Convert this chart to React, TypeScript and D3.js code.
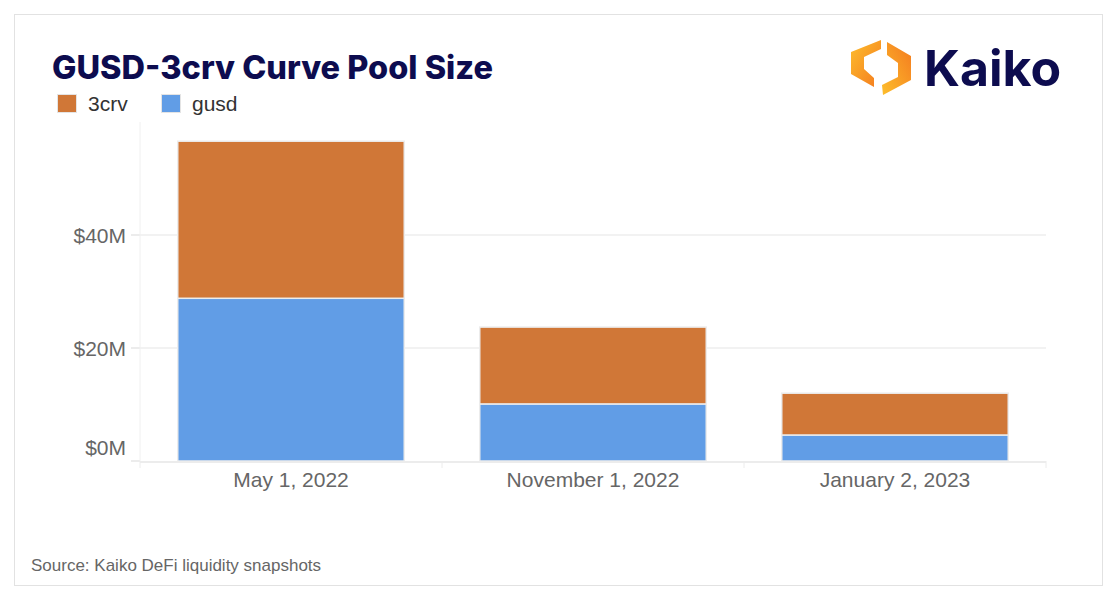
import React from "react";
import * as d3 from "d3";

const categories = ["May 1, 2022", "November 1, 2022", "January 2, 2023"];
const gusdValues = [28.8, 10.1, 4.6];
const crvValues = [27.8, 13.6, 7.4];
const yTicks = [0, 20, 40];
const seriesNames = ["3crv", "gusd"];
const seriesColors = ["#D07737", "#619DE6"];

const W = 1116;
const H = 600;
const plot = { left: 140, right: 1046, top: 122, bottom: 461 };
const sansA = "'Helvetica Neue', Arial, 'Liberation Sans', sans-serif";
const sansB = "Inter, 'Noto Sans', sans-serif";

export default function App() {
  const x = d3
    .scaleBand<string>()
    .domain(categories)
    .range([plot.left, plot.right])
    .paddingInner(0.25)
    .paddingOuter(0.125);
  const y = d3.scaleLinear().domain([0, 60]).range([plot.bottom, plot.top]);

  const rows = categories.map((c, i) => ({ cat: c, gusd: gusdValues[i], crv: crvValues[i] }));
  const stack = d3.stack<any>().keys(["gusd", "crv"])(rows);

  const step = x.step();
  const boundaries = categories.map((c) => (x(c) as number) - (step * 0.25) / 2);
  boundaries.push(plot.right);

  return (
    <svg width={W} height={H} style={{ position: "absolute", left: 0, top: 0, display: "block" }}>
      <defs>
        <linearGradient id="lg" x1="0" y1="0" x2="1" y2="1">
          <stop offset="0" stopColor="#FDBE2C" />
          <stop offset="1" stopColor="#F47A1F" />
        </linearGradient>
        <linearGradient id="lg2" x1="1" y1="0" x2="0" y2="1">
          <stop offset="0" stopColor="#F47A1F" />
          <stop offset="1" stopColor="#FDBE2C" />
        </linearGradient>
      </defs>
      <rect x={0} y={0} width={W} height={H} fill="#fff" />
      <rect x={14.5} y={14.5} width={1088} height={571} fill="#fff" stroke="#e2e2e2" strokeWidth={1} />

      <text x={52} y={79} fontFamily={sansB} fontWeight={800} fontSize={32.5} fill="#0D0C4F">
        GUSD-3crv Curve Pool Size
      </text>

      {/* legend */}
      {seriesNames.map((s, i) => {
        const lx = i === 0 ? 57 : 161;
        return (
          <g key={s}>
            <rect x={lx + 0.5} y={94.5} width={19} height={18} fill={seriesColors[i]} stroke="#e4e4e4" strokeWidth={1} />
            <text x={lx + 31} y={111} fontFamily={sansA} fontSize={21} fill="#333">
              {s}
            </text>
          </g>
        );
      })}

      {/* logo */}
      <g>
        <polygon points="881,40 881,49 864,57 864,69 874,78 874,87 851,74 851,52" fill="url(#lg)" />
        <polygon points="887,42 911,56 911,80 883,95 882,85 898,77 898,63 887,55" fill="url(#lg2)" />
        <text x={924} y={86} fontFamily={sansB} fontWeight={700} fontSize={50} fill="#0D0C4F">
          Kaiko
        </text>
      </g>

      {/* grid */}
      {yTicks.map((t) => (
        <g key={t}>
          {t !== 0 && (
            <line x1={plot.left} x2={plot.right} y1={y(t)} y2={y(t)} stroke="#eeeeee" strokeWidth={1.5} />
          )}
          <line x1={131} x2={plot.left} y1={y(t)} y2={y(t)} stroke="#e6e6e6" strokeWidth={1.5} />
          <text
            x={126}
            y={t === 0 ? y(t) - 6 : y(t) + 8}
            textAnchor="end"
            fontFamily={sansA}
            fontSize={21}
            fill="#666"
          >
            {`$${t}M`}
          </text>
        </g>
      ))}
      <line x1={plot.left} x2={plot.left} y1={plot.top} y2={plot.bottom} stroke="#f0f0f0" strokeWidth={1} />

      {/* bars */}
      {stack.map((layer, li) => (
        <g key={li}>
          {layer.map((d, i) => (
            <rect
              key={i}
              x={x(categories[i]) as number}
              y={y(d[1])}
              width={x.bandwidth()}
              height={y(d[0]) - y(d[1])}
              fill={li === 0 ? seriesColors[1] : seriesColors[0]}
              stroke="#ececec"
              strokeWidth={1.5}
            />
          ))}
        </g>
      ))}

      {/* x axis */}
      <line x1={plot.left} x2={plot.right} y1={plot.bottom + 1} y2={plot.bottom + 1} stroke="#ececec" strokeWidth={2} />
      {boundaries.map((b, i) => (
        <line key={i} x1={b} x2={b} y1={plot.bottom} y2={plot.bottom + 7} stroke="#ececec" strokeWidth={1} />
      ))}
      {categories.map((c) => (
        <text
          key={c}
          x={(x(c) as number) + x.bandwidth() / 2}
          y={487}
          textAnchor="middle"
          fontFamily={sansA}
          fontSize={21}
          fill="#666"
        >
          {c}
        </text>
      ))}

      <text x={31} y={571} fontFamily={sansA} fontSize={17} fill="#666">
        Source: Kaiko DeFi liquidity snapshots
      </text>
    </svg>
  );
}
